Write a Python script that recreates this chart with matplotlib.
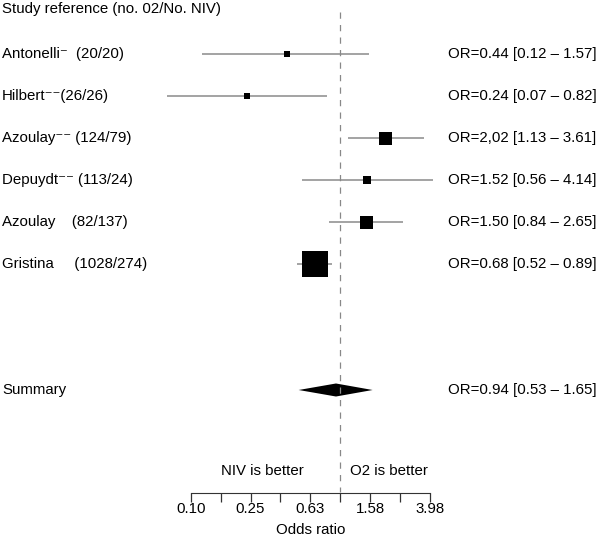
import numpy as np
import matplotlib
matplotlib.use("Agg")
import matplotlib.pyplot as plt
import matplotlib.transforms as mtransforms

plt.rcParams['font.family'] = ['Liberation Sans', 'DejaVu Sans']

# Study data
labels = ["Antonelli\u207b  (20/20)", "Hilbert\u207b\u207b(26/26)", "Azoulay\u207b\u207b (124/79)",
          "Depuydt\u207b\u207b (113/24)", "Azoulay    (82/137)", "Gristina     (1028/274)"]
odds = [0.44, 0.24, 2.02, 1.52, 1.50, 0.68]
lower = [0.12, 0.07, 1.13, 0.56, 0.84, 0.52]
upper = [1.57, 0.82, 3.61, 4.14, 2.65, 0.89]
or_text = ["OR=0.44 [0.12 \u2013 1.57]", "OR=0.24 [0.07 \u2013 0.82]", "OR=2,02 [1.13 \u2013 3.61]",
           "OR=1.52 [0.56 \u2013 4.14]", "OR=1.50 [0.84 \u2013 2.65]", "OR=0.68 [0.52 \u2013 0.89]"]
weights = [6, 6, 13, 8, 13, 26]   # box side (px), relative study weight

summ_or, summ_lo, summ_hi = 0.94, 0.53, 1.65
summ_text = "OR=0.94 [0.53 \u2013 1.65]"

tick_vals = 10 ** np.arange(-1, 0.61, 0.2)
tick_labels = ["0.10", "", "0.25", "", "0.63", "", "1.58", "", "3.98"]

W, H = 600, 546
fig = plt.figure(figsize=(W / 100, H / 100), dpi=100)
ax = fig.add_axes([0, 0, 1, 1])
ax.set_xscale("log")
ax.set_xlim(10 ** (-340 / 150), 10 ** (260 / 150))
row_px = 42
ax.set_ylim((H - 54) / row_px, -54 / row_px)
ax.axis("off")

rows = np.arange(len(odds))
summ_row = 8

# dashed null line
ax.plot([1, 1], [(12 - 54) / row_px, (492 - 54) / row_px], color="#888888", lw=0.9,
        ls=(0, (5, 5)))

# CIs and boxes
ax.hlines(rows, lower, upper, color="#8a8a8a", lw=1.1)
ax.scatter(odds, rows, marker="s", s=(np.array(weights) * 0.72) ** 2, color="black",
           zorder=3, linewidths=0)

# summary diamond
hh = 0.155
ax.fill([summ_lo, summ_or, summ_hi, summ_or], [summ_row, summ_row - hh, summ_row, summ_row + hh],
        color="black", lw=0)

tr = mtransforms.blended_transform_factory(ax.transAxes, ax.transData)
fs = 10.8
ax.text(2 / W, -1.08, "Study reference (no. 02/No. NIV)", transform=tr, fontsize=fs,
        va="center", ha="left")
for r, lab, t in zip(rows, labels, or_text):
    ax.text(2 / W, r, lab, transform=tr, fontsize=fs, va="center", ha="left")
    ax.text(448 / W, r, t, transform=tr, fontsize=fs, va="center", ha="left")
ax.text(2 / W, summ_row, "Summary", transform=tr, fontsize=fs, va="center", ha="left")
ax.text(448 / W, summ_row, summ_text, transform=tr, fontsize=fs, va="center", ha="left")

ax.text(10 ** (-36 / 150), (471 - 54) / row_px, "NIV is better", fontsize=fs, va="center", ha="right")
ax.text(10 ** (10 / 150), (471 - 54) / row_px, "O2 is better", fontsize=fs, va="center", ha="left")

# odds ratio axis
x0, x1 = 190.7, 430
ax2 = fig.add_axes([x0 / W, 1 - 492.7 / H, (x1 - x0) / W, 0.001])
ax2.set_xscale("log")
ax2.set_xlim(tick_vals[0], tick_vals[-1])
ax2.patch.set_alpha(0)
for s in ["top", "left", "right"]:
    ax2.spines[s].set_visible(False)
ax2.spines["bottom"].set_color("#333333")
ax2.set_yticks([])
ax2.set_xticks(tick_vals)
ax2.set_xticklabels(tick_labels)
ax2.minorticks_off()
ax2.tick_params(axis="x", direction="out", length=6.5, width=0.9, color="#333333",
                labelsize=fs, pad=0.5)
ax2.set_xlabel("Odds ratio", fontsize=fs, labelpad=5)

fig.savefig("out.png", dpi=100)
